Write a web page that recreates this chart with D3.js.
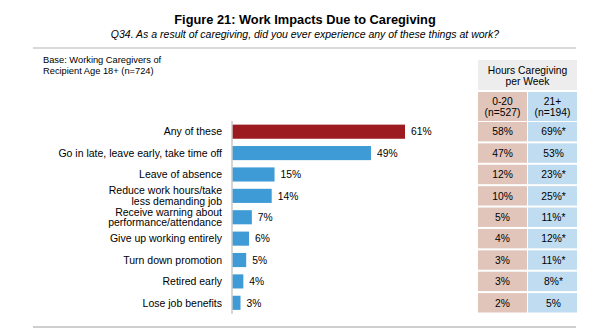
<!DOCTYPE html>
<html>
<head>
<meta charset="utf-8">
<script src="https://cdn.jsdelivr.net/npm/d3@7"></script>
<style>
  body { margin: 0; background: #fff; }
  svg { font-family: "Liberation Sans", Arial, sans-serif; }
</style>
</head>
<body>
<div id="chart"></div>
<script>
// work impacts, all working caregivers and split by weekly hours
var categories = [
  ["Any of these"],
  ["Go in late, leave early, take time off"],
  ["Leave of absence"],
  ["Reduce work hours/take", "less demanding job"],
  ["Receive warning about", "performance/attendance"],
  ["Give up working entirely"],
  ["Turn down promotion"],
  ["Retired early"],
  ["Lose job benefits"]
];
var totalPct = [61, 49, 15, 14, 7, 6, 5, 4, 3];
var lowHours = [58, 47, 12, 10, 5, 4, 3, 3, 2];
var highHours = [69, 53, 23, 25, 11, 12, 11, 8, 5];
var highSig = [true, false, true, true, true, true, true, true, false];
var groupHeads = [["0-20", "(n=527)"], ["21+", "(n=194)"]];

var W = 596, H = 335;

var svg = d3.select("#chart").append("svg")
  .attr("width", W)
  .attr("height", H);

// titles
svg.append("text")
  .attr("x", 305).attr("y", 23.5)
  .attr("text-anchor", "middle")
  .style("font-size", "12.8px").style("font-weight", "bold")
  .text("Figure 21: Work Impacts Due to Caregiving");

svg.append("text")
  .attr("x", 305).attr("y", 37.5)
  .attr("text-anchor", "middle")
  .style("font-size", "10.5px").style("font-style", "italic")
  .text("Q34. As a result of caregiving, did you ever experience any of these things at work?");

svg.append("line")
  .attr("x1", 33).attr("x2", 576).attr("y1", 48).attr("y2", 48)
  .attr("stroke", "#b8b3ab").attr("stroke-width", 1.2);

svg.append("line")
  .attr("x1", 33).attr("x2", 576).attr("y1", 327).attr("y2", 327)
  .attr("stroke", "#cfcfcf").attr("stroke-width", 2);

svg.append("text")
  .attr("x", 43).attr("y", 63)
  .style("font-size", "9.3px")
  .selectAll("tspan")
  .data(["Base: Working Caregivers of", "Recipient Age 18+ (n=724)"])
  .join("tspan")
    .attr("x", 43)
    .attr("dy", (d, i) => i ? 11 : 0)
    .text(d => d);

// scales
var keys = categories.map((d, i) => i);
var y = d3.scaleBand()
  .domain(keys)
  .range([121, 313.5])
  .paddingInner(0.34)
  .paddingOuter(0.17);

var x = d3.scaleLinear()
  .domain([0, 61])
  .range([232, 405]);

var step = y.step();

// bars
svg.selectAll("rect.bar")
  .data(totalPct)
  .join("rect")
    .attr("class", "bar")
    .attr("x", x(0))
    .attr("y", (d, i) => y(i))
    .attr("width", d => x(d) - x(0))
    .attr("height", y.bandwidth())
    .attr("fill", (d, i) => i === 0 ? "#9b1b20" : "#3f9bd6");

// axis line
svg.append("line")
  .attr("x1", x(0)).attr("x2", x(0))
  .attr("y1", 121).attr("y2", 314)
  .attr("stroke", "#c9c9c9").attr("stroke-width", 1.5);

// value labels
svg.selectAll("text.val")
  .data(totalPct)
  .join("text")
    .attr("class", "val")
    .attr("x", d => x(d) + 6)
    .attr("y", (d, i) => y(i) + y.bandwidth() / 2)
    .attr("dy", "0.36em")
    .style("font-size", "10.3px")
    .text(d => d + "%");

// category labels
svg.selectAll("text.cat")
  .data(categories)
  .join("text")
    .attr("class", "cat")
    .attr("text-anchor", "end")
    .style("font-size", "10.5px")
    .each(function (lines, i) {
      var cy = y(i) + y.bandwidth() / 2;
      var t = d3.select(this);
      lines.forEach((ln, j) => {
        t.append("tspan")
          .attr("x", 222)
          .attr("y", cy + (j - (lines.length - 1) / 2) * 10.5)
          .attr("dy", "0.36em")
          .text(ln);
      });
    });

// side table
var colX = [478, 528], colW = 49;
var colFill = ["#e2c5ba", "#bfdcf1"];

svg.append("rect")
  .attr("x", 478).attr("y", 60)
  .attr("width", 99).attr("height", 30)
  .attr("fill", "#ededed");

svg.append("text")
  .attr("text-anchor", "middle")
  .style("font-size", "10.3px")
  .selectAll("tspan")
  .data(["Hours Caregiving", "per Week"])
  .join("tspan")
    .attr("x", 527.5)
    .attr("y", (d, i) => 73.5 + i * 11)
    .text(d => d);

groupHeads.forEach((hd, c) => {
  svg.append("rect")
    .attr("x", colX[c]).attr("y", 92)
    .attr("width", colW).attr("height", 29)
    .attr("fill", colFill[c]);
  svg.append("text")
    .attr("text-anchor", "middle")
    .style("font-size", "10.3px")
    .selectAll("tspan")
    .data(hd)
    .join("tspan")
      .attr("x", colX[c] + colW / 2)
      .attr("y", (d, i) => 105 + i * 11)
      .text(d => d);
});

var cols = [
  lowHours.map(v => v + "%"),
  highHours.map((v, i) => v + "%" + (highSig[i] ? "*" : ""))
];

cols.forEach((vals, c) => {
  var g = svg.append("g");
  g.selectAll("rect")
    .data(vals)
    .join("rect")
      .attr("x", colX[c])
      .attr("y", (d, i) => y(i) - step * y.paddingInner() / 2 + 1)
      .attr("width", colW)
      .attr("height", step - 2)
      .attr("fill", colFill[c]);
  g.selectAll("text")
    .data(vals)
    .join("text")
      .attr("x", colX[c] + colW / 2 + (c === 1 ? 1 : 0))
      .attr("y", (d, i) => y(i) + y.bandwidth() / 2)
      .attr("dy", "0.36em")
      .attr("text-anchor", "middle")
      .style("font-size", "10.3px")
      .text(d => d);
});
</script>
</body>
</html>
